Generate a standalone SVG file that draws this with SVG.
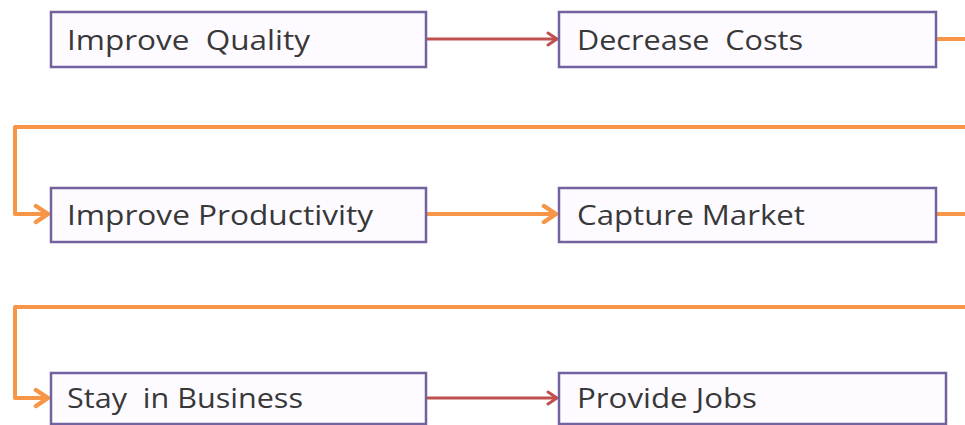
<svg xmlns="http://www.w3.org/2000/svg" width="965" height="425" viewBox="0 0 965 425">
  <style>
    .box { fill: #fdfbff; stroke: #7462a0; stroke-width: 2.5; }
    .lbl { font-family: "Open Sans", "Liberation Sans", sans-serif; font-size: 27px; fill: #383838; white-space: pre; }
    .red { fill: none; stroke: #c0504d; stroke-width: 3; }
    .orange { fill: none; stroke: #f79646; stroke-width: 4; stroke-linejoin: round; }
  </style>
  <defs>
    <marker id="headRed" markerWidth="14" markerHeight="16" refX="11" refY="8" orient="auto" markerUnits="userSpaceOnUse">
      <path d="M2,2 L11,8 L2,14" fill="none" stroke="#c0504d" stroke-width="3" stroke-linecap="round" stroke-linejoin="round"/>
    </marker>
    <marker id="headOrange" markerWidth="18" markerHeight="22" refX="15" refY="11" orient="auto" markerUnits="userSpaceOnUse">
      <path d="M3,3 L15,11 L3,19" fill="none" stroke="#f79646" stroke-width="4.5" stroke-linecap="round" stroke-linejoin="round"/>
    </marker>
  </defs>

  <g id="connectors">
    <line class="red" x1="427" y1="39" x2="557" y2="39" marker-end="url(#headRed)"/>
    <polyline class="orange" points="937,39 965,39"/>
    <polyline class="orange" points="965,127 15,127 15,214 48,214" marker-end="url(#headOrange)"/>
    <line class="orange" x1="427" y1="214" x2="556" y2="214" marker-end="url(#headOrange)"/>
    <polyline class="orange" points="937,214 965,214"/>
    <polyline class="orange" points="965,307 15,307 15,398 48,398" marker-end="url(#headOrange)"/>
    <line class="red" x1="427" y1="398" x2="557" y2="398" marker-end="url(#headRed)"/>
  </g>

  <g id="improve-quality">
    <rect class="box" x="51" y="12" width="375" height="55"/>
    <text class="lbl" x="67" y="50" textLength="243" lengthAdjust="spacingAndGlyphs">Improve  Quality</text>
  </g>
  <g id="decrease-costs">
    <rect class="box" x="559" y="12" width="377" height="55"/>
    <text class="lbl" x="577" y="50" textLength="226" lengthAdjust="spacingAndGlyphs">Decrease  Costs</text>
  </g>
  <g id="improve-productivity">
    <rect class="box" x="51" y="188" width="375" height="54"/>
    <text class="lbl" x="67" y="225" textLength="306" lengthAdjust="spacingAndGlyphs">Improve Productivity</text>
  </g>
  <g id="capture-market">
    <rect class="box" x="559" y="188" width="377" height="54"/>
    <text class="lbl" x="577" y="225" textLength="228" lengthAdjust="spacingAndGlyphs">Capture Market</text>
  </g>
  <g id="stay-in-business">
    <rect class="box" x="51" y="373" width="375" height="51"/>
    <text class="lbl" x="67" y="408" textLength="236" lengthAdjust="spacingAndGlyphs">Stay  in Business</text>
  </g>
  <g id="provide-jobs">
    <rect class="box" x="559" y="373" width="387" height="51"/>
    <text class="lbl" x="577" y="408" textLength="180" lengthAdjust="spacingAndGlyphs">Provide Jobs</text>
  </g>
</svg>
